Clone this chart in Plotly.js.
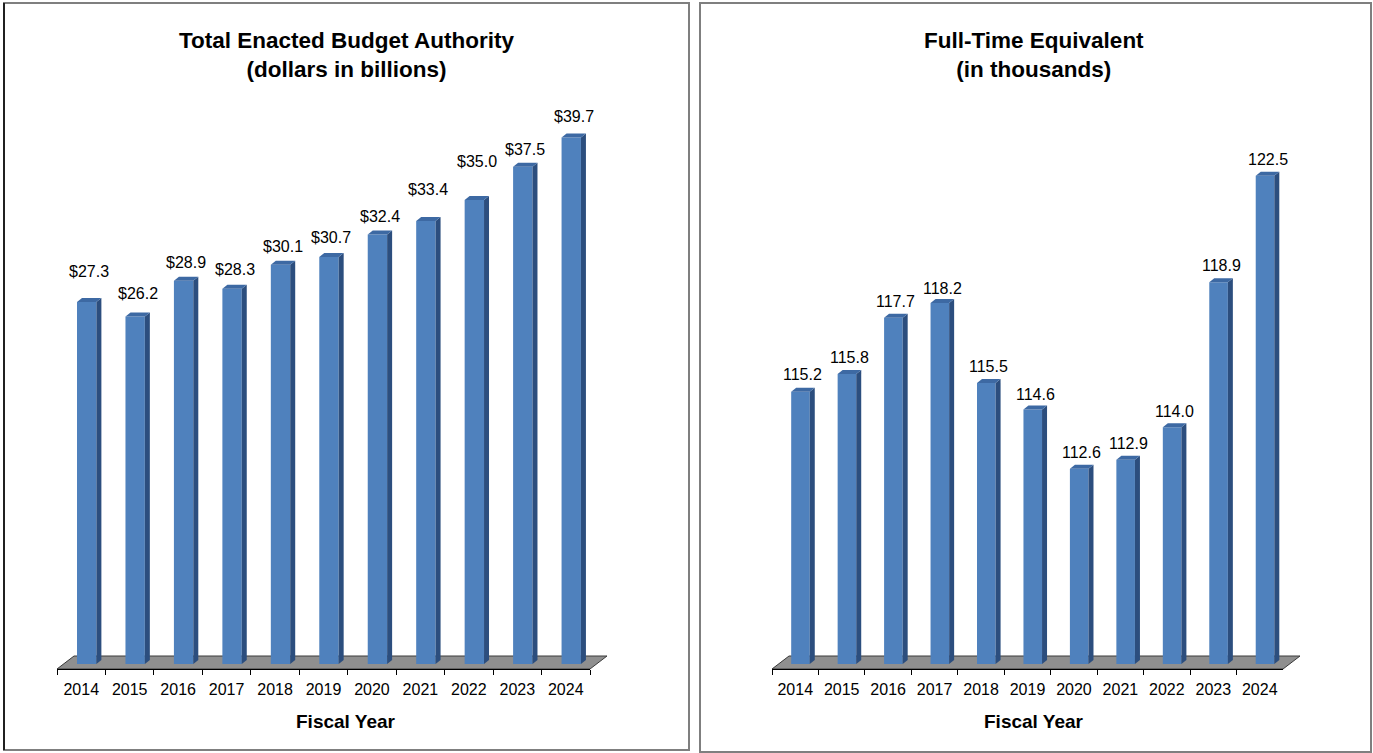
<!DOCTYPE html>
<html><head><meta charset="utf-8">
<script src="https://cdn.plot.ly/plotly-3.0.1.min.js"></script>
<style>html,body{margin:0;padding:0;background:#fff}#chart{width:1373px;height:753px}</style>
</head><body><div id="chart"></div>
<script>
// ---- data ----
const years = ['2014','2015','2016','2017','2018','2019','2020','2021','2022','2023','2024'];
const budget = [27.3, 26.2, 28.9, 28.3, 30.1, 30.7, 32.4, 33.4, 35.0, 37.5, 39.7];
const fte = [115.2, 115.8, 117.7, 118.2, 115.5, 114.6, 112.6, 112.9, 114.0, 118.9, 122.5];
const budgetLabels = budget.map(v => '$' + v.toFixed(1));
const fteLabels = fte.map(v => v.toFixed(1));
// label lift above bar (px), as placed in the original
const budgetLabelLift = [31, 23, 18, 19, 18, 19, 18, 32, 38, 17, 21];
const fteLabelLift = [17, 17, 16, 15, 16, 15, 16, 16, 16, 17, 16];

// ---- geometry / style ----
const W = 1373, H = 753;
const FLOOR_Y = 669, BASE_Y = 664, TOP_Y = 100, FLOOR_DX = 17, FLOOR_DY = 13;
const BAR_W = 0.40, BAR_OFF = -0.087, SIDE_DX = 5, SIDE_DY = 4;
const FRONT = '#4f81bd', SIDE = '#2c4e7e', TOPC = '#3d69a3';
const FONT = 'Liberation Sans, Arial, sans-serif';

const panels = [
  {xa:'x', ya:'y', left:57, right:590, values:budget, labels:budgetLabels, lift:budgetLabelLift, base:0, pxUnit:13.26,
   title:'<b>Total Enacted Budget Authority<br>(dollars in billions)</b>', cx:346, box:[4,689,3,750]},
  {xa:'x2', ya:'y2', left:772, right:1283, values:fte, labels:fteLabels, lift:fteLabelLift, base:106, pxUnit:29.59,
   title:'<b>Full-Time Equivalent<br>(in thousands)</b>', cx:1034, box:[700,1371,3,752]}
];

const px = x => x / W;
const py = y => 1 - y / H;

const traces = [], shapes = [], annotations = [];
const layout = {
  width: W, height: H, margin:{l:0,r:0,t:0,b:0,pad:0}, showlegend:false,
  paper_bgcolor:'#ffffff', plot_bgcolor:'rgba(0,0,0,0)',
  font:{family:FONT, color:'#000'}
};

panels.forEach((p, k) => {
  const sfx = k === 0 ? '' : '2';
  const pxX = (p.right - p.left) / years.length;
  const r0 = p.base - (FLOOR_Y - BASE_Y) / p.pxUnit;
  const r1 = p.base + (BASE_Y - TOP_Y) / p.pxUnit;
  layout['xaxis' + sfx] = {
    domain:[px(p.left), px(p.right)], anchor:'y' + sfx, type:'category',
    range:[-0.5, years.length - 0.5], tickson:'boundaries', ticks:'outside', ticklen:5,
    tickcolor:'#000', tickwidth:1, showline:true, linecolor:'#000', linewidth:1,
    showgrid:false, zeroline:false, tickfont:{size:16, family:FONT, color:'#000'},
    ticklabelstandoff:6, fixedrange:true
  };
  layout['yaxis' + sfx] = {
    domain:[py(FLOOR_Y), py(TOP_Y)], anchor:'x' + sfx, range:[r0, r1], visible:false, fixedrange:true
  };
  traces.push({
    type:'bar', x:years, y:p.values.map(v => v - p.base), base:p.base,
    width:BAR_W, offset:BAR_OFF, marker:{color:FRONT, line:{width:0}},
    xaxis:p.xa, yaxis:p.ya, hoverinfo:'skip', textposition:'none'
  });
  const dx = SIDE_DX / pxX, dy = SIDE_DY / p.pxUnit;
  p.values.forEach((v, i) => {
    const xl = i + BAR_OFF, xr = xl + BAR_W;
    shapes.push({type:'path', xref:p.xa, yref:p.ya, layer:'above', fillcolor:SIDE, line:{width:0},
      path:`M${xr},${p.base} L${xr+dx},${p.base+dy} L${xr+dx},${v+dy} L${xr},${v} Z`});
    shapes.push({type:'path', xref:p.xa, yref:p.ya, layer:'above', fillcolor:TOPC, line:{width:0},
      path:`M${xl},${v} L${xl+dx},${v+dy} L${xr+dx},${v+dy} L${xr},${v} Z`});
    annotations.push({xref:p.xa, yref:p.ya, x:xl + BAR_W/2 + dx/2, y:v, yshift:p.lift[i],
      xanchor:'center', yanchor:'middle', showarrow:false, text:p.labels[i],
      font:{size:16, family:FONT, color:'#000'}});
  });
  // floor
  shapes.push({type:'path', xref:'paper', yref:'paper', layer:'below', fillcolor:'#8f8f8f',
    line:{color:'#3a3a3a', width:1},
    path:`M${px(p.left)},${py(FLOOR_Y)} L${px(p.right)},${py(FLOOR_Y)} L${px(p.right+FLOOR_DX)},${py(FLOOR_Y-FLOOR_DY)} L${px(p.left+FLOOR_DX)},${py(FLOOR_Y-FLOOR_DY)} Z`});
  // panel border
  shapes.push({type:'rect', xref:'paper', yref:'paper', layer:'above',
    x0:px(p.box[0]), x1:px(p.box[1]), y0:py(p.box[3]), y1:py(p.box[2]),
    line:{color:'#7f7f7f', width:2}, fillcolor:'rgba(0,0,0,0)'});
  // titles
  annotations.push({xref:'paper', yref:'paper', x:px(p.cx), y:py(55), xanchor:'center', yanchor:'middle',
    showarrow:false, text:p.title, font:{size:22.5, family:FONT, color:'#000'}});
  annotations.push({xref:'paper', yref:'paper', x:px(p.cx), y:py(721), xanchor:'center', yanchor:'middle',
    showarrow:false, text:'<b>Fiscal Year</b>', font:{size:19, family:FONT, color:'#000'}});
});
shapes.push({type:'line', xref:'paper', yref:'paper', x0:px(4), x1:px(4), y0:py(3), y1:py(750),
  line:{color:'#000', width:1.5}, layer:'above'});

layout.shapes = shapes;
layout.annotations = annotations;
Plotly.newPlot('chart', traces, layout, {displayModeBar:false, staticPlot:true});
</script>
</body></html>
